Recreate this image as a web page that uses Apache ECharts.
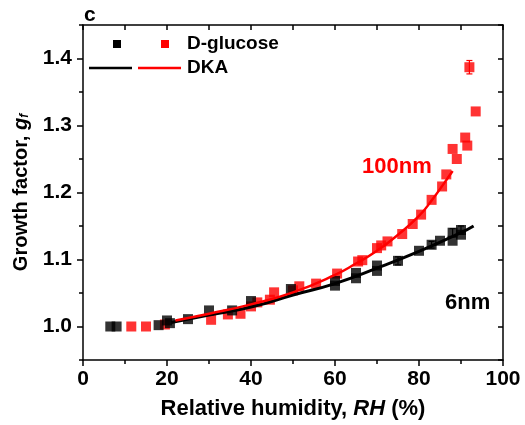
<!DOCTYPE html>
<html>
<head>
<meta charset="utf-8">
<script src="https://cdn.jsdelivr.net/npm/echarts@6/dist/echarts.min.js"></script>
<style>
  html, body { margin: 0; padding: 0; background: #fff; }
  #chart { width: 525px; height: 425px; }
</style>
</head>
<body>
<div id="chart"></div>
<script>
// measured points: [RH %, growth factor]
var glucose6nm = [
  [6.5, 1.000], [8, 1.000], [18, 1.002], [20, 1.009], [20.7, 1.005], [25, 1.011],
  [30, 1.024], [35.5, 1.024], [40, 1.038], [49.5, 1.056], [60, 1.068], [60, 1.061],
  [65, 1.080], [65, 1.072], [70, 1.091], [70, 1.083], [75, 1.098], [80, 1.113],
  [83, 1.122], [85, 1.128], [88, 1.128], [88, 1.140], [90, 1.144], [90, 1.137]
];
var glucose100nm = [
  [11.5, 1.000], [15, 1.000], [19.5, 1.003], [30.5, 1.010], [34.5, 1.018], [37.5, 1.019],
  [40, 1.030], [41.5, 1.036], [44.5, 1.040], [45.5, 1.051], [50, 1.054], [51.5, 1.060],
  [55.5, 1.064], [60.5, 1.079], [65.5, 1.097], [66.5, 1.099], [70, 1.117], [71, 1.121],
  [72.5, 1.127], [76, 1.138], [78.5, 1.153], [80.5, 1.167], [83, 1.189], [85.5, 1.209],
  [86.5, 1.227], [88, 1.265], [89, 1.250], [91, 1.282], [91.5, 1.270], [93.5, 1.321],
  [92, 1.387]
];
// error bars: [RH, gf, +/-]
var err6nm = [[75, 1.098, 0.006], [83, 1.122, 0.005], [88, 1.140, 0.006], [90, 1.144, 0.006]];
var err100nm = [[92, 1.387, 0.010]];
// DKA model curves
var dka6nm = [[21, 1.006], [30, 1.017], [40, 1.029], [50, 1.047], [60, 1.064], [70, 1.087], [80, 1.112], [90, 1.140], [93, 1.150]];
var dka100nm = [[22, 1.009], [30, 1.019], [40, 1.033], [50, 1.051], [60, 1.077], [65, 1.094], [70, 1.113], [75, 1.137], [80, 1.165], [83, 1.188], [86, 1.214], [88, 1.232]];

var yMajor = [1.0, 1.1, 1.2, 1.3, 1.4];
var yMinor = [0.95, 1.05, 1.15, 1.25, 1.35, 1.45];
var yAll = [0.95, 1.0, 1.05, 1.1, 1.15, 1.2, 1.25, 1.3, 1.35, 1.4, 1.45];

var FONT = '"Liberation Sans", Arial, sans-serif';

function errSeries(data, color) {
  return {
    type: 'custom',
    data: data,
    z: 3,
    renderItem: function (params, api) {
      var x = api.value(0);
      var top = api.coord([x, api.value(1) + api.value(2)]);
      var bot = api.coord([x, api.value(1) - api.value(2)]);
      var style = { stroke: color, lineWidth: 1.2 };
      return {
        type: 'group',
        children: [
          { type: 'line', shape: { x1: top[0], y1: top[1], x2: bot[0], y2: bot[1] }, style: style },
          { type: 'line', shape: { x1: top[0] - 3, y1: top[1], x2: top[0] + 3, y2: top[1] }, style: style },
          { type: 'line', shape: { x1: bot[0] - 3, y1: bot[1], x2: bot[0] + 3, y2: bot[1] }, style: style }
        ]
      };
    }
  };
}

var myChart = echarts.init(document.getElementById('chart'));
var option = {
  animation: false,
  grid: { left: 83, right: 22, top: 25, bottom: 62 },
  xAxis: [
    {
      type: 'value', min: 0, max: 100, interval: 20, position: 'bottom',
      name: '{n|Relative humidity, }{i|RH}{n| (%)}',
      nameLocation: 'middle', nameGap: 38,
      nameTextStyle: {
        rich: {
          n: { fontFamily: FONT, fontWeight: 'bold', fontSize: 22, color: '#000' },
          i: { fontFamily: FONT, fontWeight: 'bold', fontStyle: 'italic', fontSize: 22, color: '#000' }
        }
      },
      axisLine: { lineStyle: { color: '#000', width: 1.5 } },
      axisTick: { length: 6, lineStyle: { color: '#000', width: 1.5 } },
      minorTick: { show: true, splitNumber: 2, length: 4, lineStyle: { color: '#000', width: 1.5 } },
      axisLabel: { fontFamily: FONT, fontWeight: 'bold', fontSize: 21, color: '#000', margin: 9 },
      splitLine: { show: false }
    },
    {
      type: 'value', min: 0, max: 100, interval: 10, position: 'top',
      axisLine: { lineStyle: { color: '#000', width: 1.5 } },
      axisTick: { inside: true, length: 5, lineStyle: { color: '#000', width: 1.5 } },
      axisLabel: { show: false },
      splitLine: { show: false }
    }
  ],
  yAxis: [
    {
      type: 'value', min: 0.95, max: 1.45, position: 'left',
      name: '{n|Growth factor, }{i|g}{s|f}',
      nameLocation: 'middle', nameGap: 52, nameRotate: 90,
      nameTextStyle: {
        rich: {
          n: { fontFamily: FONT, fontWeight: 'bold', fontSize: 20, color: '#000' },
          i: { fontFamily: FONT, fontWeight: 'bold', fontStyle: 'italic', fontSize: 20, color: '#000' },
          s: { fontFamily: FONT, fontWeight: 'bold', fontStyle: 'italic', fontSize: 12, color: '#000', verticalAlign: 'bottom', padding: [8, 0, 0, 0] }
        }
      },
      axisLine: { show: true, lineStyle: { color: '#000', width: 1.5 } },
      axisTick: { show: true, length: 6, customValues: yMajor, lineStyle: { color: '#000', width: 1.5 } },
      axisLabel: {
        customValues: yMajor, fontFamily: FONT, fontWeight: 'bold', fontSize: 21, color: '#000', margin: 11,
        formatter: function (v) { return v.toFixed(1); }
      },
      splitLine: { show: false }
    },
    {
      type: 'value', min: 0.95, max: 1.45, position: 'left',
      axisLine: { show: false },
      axisTick: { show: true, length: 4, customValues: yMinor, lineStyle: { color: '#000', width: 1.5 } },
      axisLabel: { show: false },
      splitLine: { show: false }
    },
    {
      type: 'value', min: 0.95, max: 1.45, position: 'right',
      axisLine: { show: true, lineStyle: { color: '#000', width: 1.5 } },
      axisTick: { show: true, inside: true, length: 5, customValues: yAll, lineStyle: { color: '#000', width: 1.5 } },
      axisLabel: { show: false },
      splitLine: { show: false }
    }
  ],
  series: [
    errSeries(err6nm, '#000'),
    errSeries(err100nm, '#ff0000'),
    {
      type: 'scatter', data: glucose100nm, symbol: 'rect', symbolSize: 10,
      itemStyle: { color: '#ff0000' }, z: 2
    },
    {
      type: 'scatter', data: glucose6nm, symbol: 'rect', symbolSize: 10,
      itemStyle: { color: '#000' }, z: 2
    },
    {
      type: 'line', data: dka6nm, smooth: true, showSymbol: false, z: 4,
      lineStyle: { color: '#000', width: 3 }
    },
    {
      type: 'line', data: dka100nm, smooth: true, showSymbol: false, z: 4,
      lineStyle: { color: '#ff0000', width: 2.5 }
    }
  ],
  graphic: [
    { type: 'text', left: 84, top: 5, style: { text: 'c', font: 'bold 21px ' + FONT, fill: '#000' } },
    { type: 'rect', shape: { x: 113, y: 40, width: 8, height: 8 }, style: { fill: '#000' } },
    { type: 'rect', shape: { x: 161, y: 40, width: 8, height: 8 }, style: { fill: '#ff0000' } },
    { type: 'text', x: 187, y: 44, style: { text: 'D-glucose', font: 'bold 19px ' + FONT, fill: '#000', verticalAlign: 'middle' } },
    { type: 'line', shape: { x1: 89, y1: 68, x2: 132, y2: 68 }, style: { stroke: '#000', lineWidth: 2.5 } },
    { type: 'line', shape: { x1: 138, y1: 68, x2: 181, y2: 68 }, style: { stroke: '#ff0000', lineWidth: 2.5 } },
    { type: 'text', x: 187, y: 68, style: { text: 'DKA', font: 'bold 19px ' + FONT, fill: '#000', verticalAlign: 'middle' } },
    { type: 'text', x: 362, y: 167, style: { text: '100nm', font: 'bold 22px ' + FONT, fill: '#ff0000', verticalAlign: 'middle' } },
    { type: 'text', x: 445, y: 303, style: { text: '6nm', font: 'bold 22px ' + FONT, fill: '#000', verticalAlign: 'middle' } }
  ]
};
myChart.setOption(option);
</script>
</body>
</html>
